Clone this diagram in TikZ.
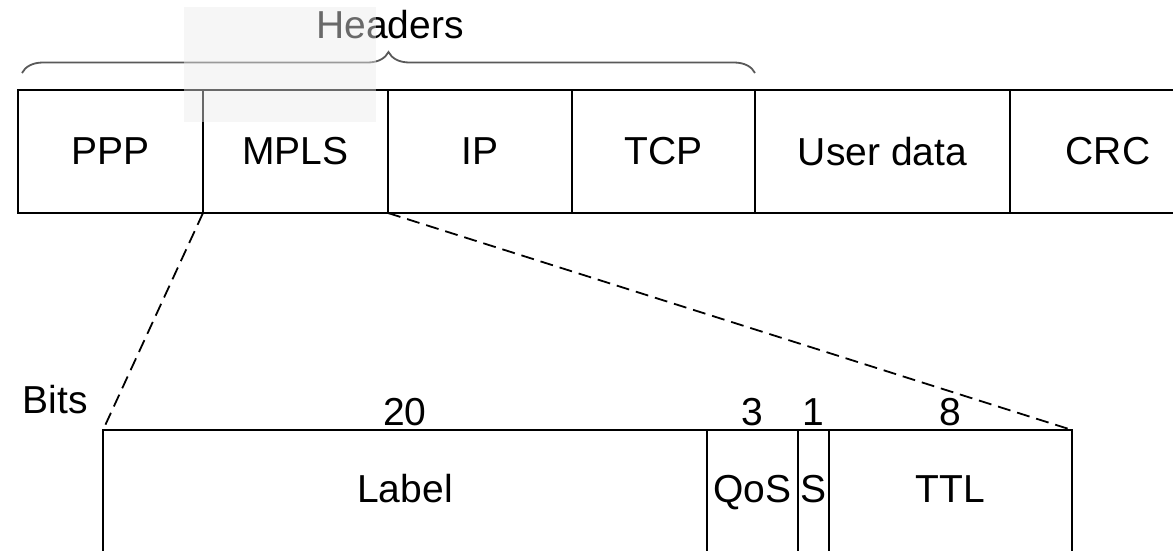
\documentclass[tikz,border=0pt]{standalone}
\usepackage{fontspec}
\setmainfont{Liberation Sans}
\usetikzlibrary{decorations.pathreplacing}
\begin{document}
\begin{tikzpicture}[x=1pt,y=-1pt,
  cell/.style={draw, line width=1.9pt, rectangle, outer sep=0pt, inner sep=0pt, minimum height=123pt, anchor=north west, font=\fontsize{39}{46}\selectfont},
  bcell/.style={draw, line width=1.9pt, rectangle, outer sep=0pt, inner sep=0pt, minimum height=150pt, anchor=north west},
  txt/.style={font=\fontsize{39}{46}\selectfont, inner sep=0pt, anchor=base},
  dashline/.style={line width=1.8pt, dash pattern=on 13pt off 7pt}]
\useasboundingbox (0,0) rectangle (1173,550);
\clip (0,0) rectangle (1173,550);
% top row
\node[cell, minimum width=185pt] (ppp) at (18,90) {PPP};
\node[cell, minimum width=185pt] (mpls) at (203,90) {MPLS};
\node[cell, minimum width=184pt] (ip) at (388,90) {IP};
\node[cell, minimum width=183pt] (tcp) at (572,90) {TCP};
\node[cell, minimum width=255pt] (user) at (755,90) {User data};
\node[cell, minimum width=196pt] (crc) at (1010,90) {CRC};
% headers brace
\coordinate (bl) at (22,73);
\coordinate (br) at (755,73);
\draw[decorate, decoration={brace, amplitude=21pt}, line width=1.8pt, black!65] (bl) -- (br);
\node[txt] (headers) at (390,38) {Headers};
% bottom row
\node[bcell, minimum width=604pt] (label) at (103,430) {};
\node[bcell, minimum width=91pt] (qos) at (707,430) {};
\node[bcell, minimum width=31pt] (s) at (798,430) {};
\node[bcell, minimum width=243pt] (ttl) at (829,430) {};
\node[txt] (labelt) at ([yshift=-72pt]label.north) {Label};
\node[txt] (qost) at ([yshift=-72pt]qos.north) {QoS};
\node[txt] (st) at ([yshift=-72pt]s.north) {S};
\node[txt] (ttlt) at ([yshift=-72pt]ttl.north) {TTL};
\node[txt] (n20) at ([yshift=5pt]label.north) {20};
\node[txt] (n3) at ([yshift=5pt]qos.north) {3};
\node[txt] (n1) at ([yshift=5pt]s.north) {1};
\node[txt] (n8) at ([yshift=5pt]ttl.north) {8};
\node[txt] (bits) at (55,413) {Bits};
% dashed connectors
\draw[dashline] (mpls.south west) -- (label.north west);
\draw[dashline] (mpls.south east) -- (ttl.north east);
% light overlay
\fill[black!8, fill opacity=0.45] (184,7) rectangle (376,122);
\end{tikzpicture}
\end{document}
